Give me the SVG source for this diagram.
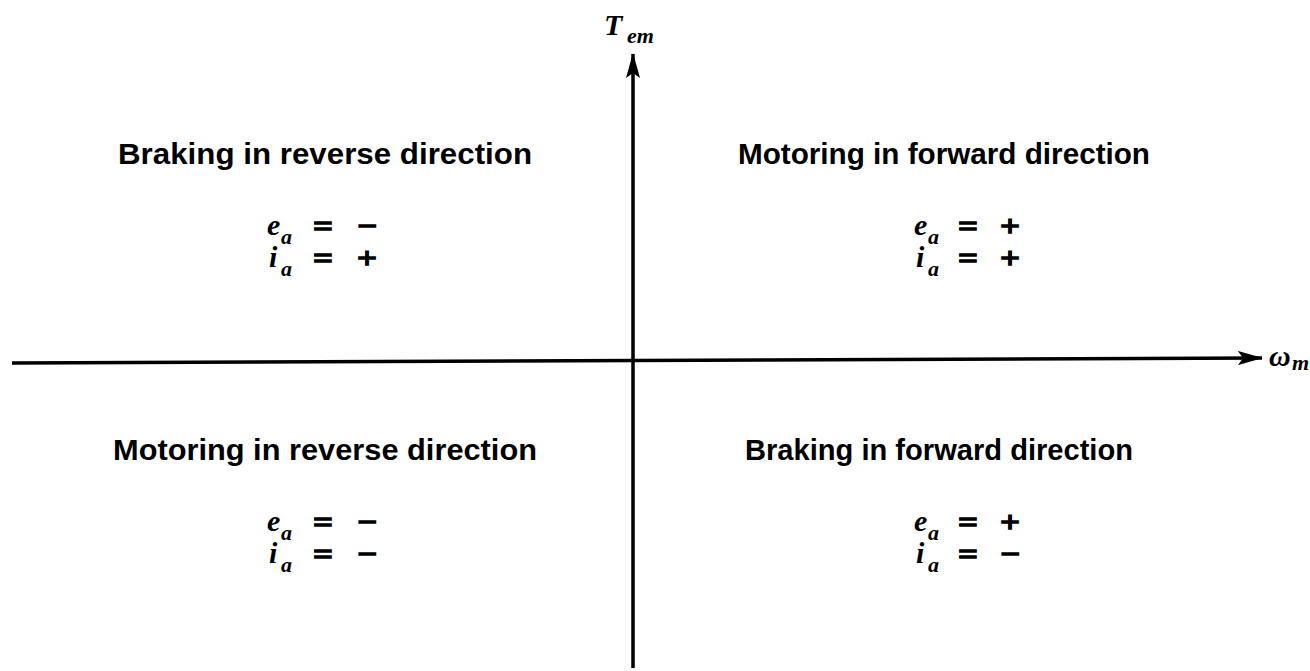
<svg xmlns="http://www.w3.org/2000/svg" width="1310" height="671" viewBox="0 0 1310 671">
<style>
.h{font-family:"Liberation Sans",Arial,sans-serif;font-size:30px;font-weight:bold;fill:#000}
.m{font-family:"Liberation Serif","Times New Roman",serif;font-size:30px;font-weight:bold;font-style:italic;fill:#000}
.s{font-family:"Liberation Serif","Times New Roman",serif;font-size:22px;font-weight:bold;font-style:italic;fill:#000}
.o{font-family:"Liberation Serif","Times New Roman",serif;font-size:30px;font-weight:bold;fill:#000;stroke:#000;stroke-width:1.3}
.ax{stroke:#000;stroke-width:3.5;fill:none}
</style>
<defs>
<marker id="ar" viewBox="0 0 25 14" refX="24" refY="7" markerWidth="25" markerHeight="14" markerUnits="userSpaceOnUse" orient="auto">
<path d="M0,0 L25,7 L0,14 L5,7 Z" fill="#000"/>
</marker>
</defs>
<g id="connectors">
<line class="ax" x1="633" y1="668" x2="633" y2="54" marker-end="url(#ar)"/>
<line class="ax" x1="12" y1="363" x2="1262" y2="358" marker-end="url(#ar)"/>
</g>
<g id="axis-labels">
<text class="m" x="604" y="35" font-size="34">T</text><text class="s" x="627" y="43" font-size="26">em</text>
<text class="m" x="1269" y="366" font-size="34">ω</text><text class="s" x="1292" y="370">m</text>
</g>
<g id="q2">
<text class="h" x="118" y="164" textLength="414" lengthAdjust="spacingAndGlyphs">Braking in reverse direction</text>
<text class="m" x="267" y="235">e</text><text class="s" x="281" y="244">a</text>
<text class="o" x="313" y="236" textLength="20" lengthAdjust="spacingAndGlyphs">=</text><text class="o" x="357" y="236" textLength="20" lengthAdjust="spacingAndGlyphs">−</text>
<text class="m" x="269" y="267">i</text><text class="s" x="281" y="276">a</text>
<text class="o" x="313" y="268" textLength="20" lengthAdjust="spacingAndGlyphs">=</text><text class="o" x="357" y="268" textLength="20" lengthAdjust="spacingAndGlyphs">+</text>
</g>
<g id="q1">
<text class="h" x="738" y="164" textLength="412" lengthAdjust="spacingAndGlyphs">Motoring in forward direction</text>
<text class="m" x="914" y="235">e</text><text class="s" x="928" y="244">a</text>
<text class="o" x="958" y="236" textLength="20" lengthAdjust="spacingAndGlyphs">=</text><text class="o" x="1000" y="236" textLength="20" lengthAdjust="spacingAndGlyphs">+</text>
<text class="m" x="916" y="267">i</text><text class="s" x="928" y="276">a</text>
<text class="o" x="958" y="268" textLength="20" lengthAdjust="spacingAndGlyphs">=</text><text class="o" x="1000" y="268" textLength="20" lengthAdjust="spacingAndGlyphs">+</text>
</g>
<g id="q3">
<text class="h" x="113" y="460" textLength="424" lengthAdjust="spacingAndGlyphs">Motoring in reverse direction</text>
<text class="m" x="267" y="531">e</text><text class="s" x="281" y="540">a</text>
<text class="o" x="313" y="532" textLength="20" lengthAdjust="spacingAndGlyphs">=</text><text class="o" x="357" y="532" textLength="20" lengthAdjust="spacingAndGlyphs">−</text>
<text class="m" x="269" y="563">i</text><text class="s" x="281" y="572">a</text>
<text class="o" x="313" y="564" textLength="20" lengthAdjust="spacingAndGlyphs">=</text><text class="o" x="357" y="564" textLength="20" lengthAdjust="spacingAndGlyphs">−</text>
</g>
<g id="q4">
<text class="h" x="745" y="460" textLength="388" lengthAdjust="spacingAndGlyphs">Braking in forward direction</text>
<text class="m" x="914" y="531">e</text><text class="s" x="928" y="540">a</text>
<text class="o" x="958" y="532" textLength="20" lengthAdjust="spacingAndGlyphs">=</text><text class="o" x="1000" y="532" textLength="20" lengthAdjust="spacingAndGlyphs">+</text>
<text class="m" x="916" y="563">i</text><text class="s" x="928" y="572">a</text>
<text class="o" x="958" y="564" textLength="20" lengthAdjust="spacingAndGlyphs">=</text><text class="o" x="1000" y="564" textLength="20" lengthAdjust="spacingAndGlyphs">−</text>
</g>
</svg>
